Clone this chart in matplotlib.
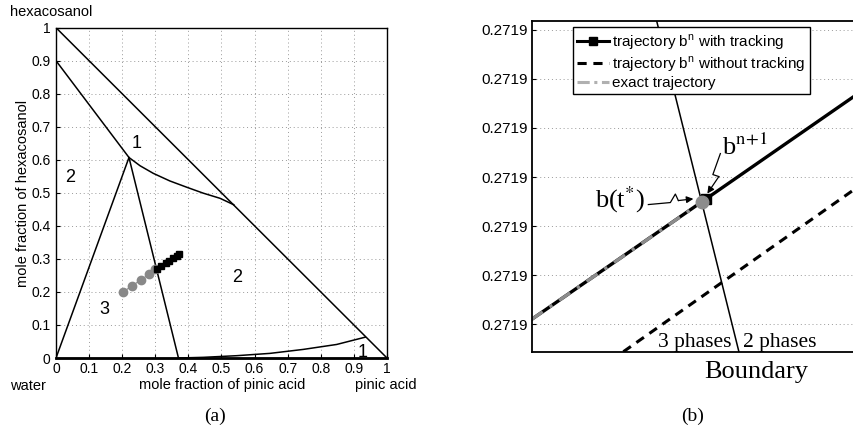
import matplotlib
matplotlib.use("Agg")
import matplotlib.pyplot as plt
import matplotlib.transforms as mtransforms
import numpy as np

plt.rcParams['font.family'] = ['Liberation Sans', 'DejaVu Sans']

W, H = 854, 432

# ---- panel (a): phase diagram, x = pinic acid, y = hexacosanol ----
hyp_x = [0.0, 1.0]
hyp_y = [1.0, 0.0]
upper_x = [0.0, 0.2205]
upper_y = [0.9, 0.607]
curve_x = [0.2205, 0.254, 0.294, 0.344, 0.395, 0.445, 0.4955, 0.537]
curve_y = [0.607, 0.582, 0.559, 0.536, 0.517, 0.499, 0.4835, 0.464]
tri_x = [0.0, 0.2205, 0.37]
tri_y = [0.0, 0.607, 0.0]
bottom_x = [0.37, 0.445, 0.546, 0.6465, 0.747, 0.848, 0.934]
bottom_y = [0.0, 0.002, 0.007, 0.014, 0.026, 0.041, 0.063]
edge_x = [0.0, 1.0]
edge_y = [0.0, 0.0]

exact_x = [0.2015, 0.2305, 0.256, 0.280, 0.299]
exact_y = [0.199, 0.219, 0.236, 0.253, 0.268]
track_x = [0.306, 0.318, 0.331, 0.342, 0.354, 0.365, 0.372]
track_y = [0.269, 0.278, 0.287, 0.294, 0.303, 0.310, 0.315]

region_labels = ["1", "2", "2", "3", "1"]
region_x = [0.244, 0.044, 0.546, 0.146, 0.926]
region_y = [0.648, 0.546, 0.244, 0.147, 0.016]

# ---- panel (b): zoom at the boundary ----
y0 = 0.271897
dy = 1e-6
yticks_b = [y0 + k * dy for k in range(7)]
ylim_b = (0.27189644, 0.27190318)

bnd_x = [0.383, 0.635]
bnd_y = [0.27190318, 0.27189644]
with_x = [0.0, 0.5334, 1.0]
with_y = [0.2718971, 0.27189955, 0.2719017]
without_x = [0.281, 1.0]
without_y = [0.27189644, 0.2718998]
exact_b_x = [0.0, 0.523]
exact_b_y = [0.2718971, 0.2718995]
bstar = (0.523, 0.2718995)
bnext = (0.5334, 0.27189955)


def px(x, y):
    return x / W, 1 - y / H


fig = plt.figure(figsize=(W / 100, H / 100), dpi=100)

# panel (a)
ax = fig.add_axes([56 / W, 1 - 358 / H, 331 / W, 330.3 / H])
kw = dict(color='black', lw=1.1)
ax.plot(hyp_x, hyp_y, **kw)
ax.plot(upper_x, upper_y, **kw)
ax.plot(curve_x, curve_y, **kw)
ax.plot(tri_x, tri_y, **kw)
ax.plot(bottom_x, bottom_y, **kw)
ax.plot(edge_x, edge_y, color='black', lw=2, clip_on=False, zorder=5)
ax.plot(exact_x, exact_y, color='#888888', lw=0.8, marker='o', ms=6,
        mfc='#888888', mec='#888888')
ax.plot(track_x, track_y, color='black', lw=1, marker='s', ms=5)
for t, x, y in zip(region_labels, region_x, region_y):
    ax.text(x, y, t, fontsize=13, ha='center', va='center')

ax.set_xlim(0, 1)
ax.set_ylim(0, 1)
ax.set_xticks(np.linspace(0, 1, 11))
ax.set_yticks(np.linspace(0, 1, 11))
ax.set_xticklabels(['0', '0.1', '0.2', '0.3', '0.4', '0.5', '0.6', '0.7', '0.8', '0.9', '1'])
ax.set_yticklabels(['0', '0.1', '0.2', '0.3', '0.4', '0.5', '0.6', '0.7', '0.8', '0.9', '1'])
ax.tick_params(direction='in', length=3, labelsize=10, pad=4)
ax.tick_params(axis='x', pad=3)
ax.grid(True, color='#999999', ls=(0, (1, 3)), lw=0.7)
for s in ax.spines.values():
    s.set_linewidth(1.0)

fig.text(*px(23, 193), 'mole fraction of hexacosanol', rotation=90,
         ha='center', va='center', fontsize=10.5)
fig.text(*px(222.5, 385.5), 'mole fraction of pinic acid', ha='center', va='center', fontsize=10.5)
fig.text(*px(10, 385.5), 'water', ha='left', va='center', fontsize=10.5)
fig.text(*px(355, 385.5), 'pinic acid', ha='left', va='center', fontsize=10.5)
fig.text(*px(10, 12.5), 'hexacosanol', ha='left', va='center', fontsize=10.5)
fig.text(*px(215, 416.5), '(a)', ha='center', va='center', fontsize=14,
         family='Liberation Serif')

# panel (b)
bx = fig.add_axes([531.7 / W, 1 - 351.7 / H, 326.3 / W, 330.7 / H])
bx.plot(bnd_x, bnd_y, color='black', lw=1.1)
l1, = bx.plot(with_x, with_y, color='black', lw=2.4)
l2, = bx.plot(without_x, without_y, color='black', lw=2.2, ls=(0, (3, 2.2)))
l3, = bx.plot(exact_b_x, exact_b_y, color='#8c8c8c', lw=2.4, ls=(0, (4, 2.5, 1, 2.5)))
bx.plot(*bnext, marker='s', ms=7, color='black', zorder=6)
bx.plot(*bstar, marker='o', ms=9, color='#8c8c8c', zorder=7)

bx.set_xlim(0, 1)
bx.set_ylim(*ylim_b)
bx.set_xticks([])
bx.set_yticks(yticks_b)
bx.set_yticklabels(['%.4f' % v for v in yticks_b])
bx.tick_params(direction='in', length=3, labelsize=11, pad=3)
bx.yaxis.grid(True, color='#999999', ls=(0, (1, 3)), lw=0.7)
for s in bx.spines.values():
    s.set_linewidth(1.3)

h1 = plt.Line2D([], [], color='black', lw=2.2, marker='s', ms=6)
h3 = plt.Line2D([], [], color='#b0b0b0', lw=2.2, ls=(0, (4, 1.5, 1, 1.5)))
leg = bx.legend([h1, l2, h3],
                [r'trajectory b$^{\mathregular{n}}$ with tracking',
                 r'trajectory b$^{\mathregular{n}}$ without tracking',
                 'exact trajectory'],
                loc='upper left', bbox_to_anchor=px(572.7, 27.3),
                bbox_transform=fig.transFigure, fontsize=11, frameon=True,
                fancybox=False, edgecolor='black', framealpha=1,
                handlelength=2.1, handletextpad=0.2, labelspacing=0.15,
                borderpad=0.3, borderaxespad=0)
leg.get_frame().set_linewidth(1.0)

serif = dict(family='Liberation Serif', math_fontfamily='stix')


def zigzag(pt, offs, tip):
    # offsets in pixels (right, up) relative to a data point
    tr = fig.dpi_scale_trans + mtransforms.ScaledTranslation(pt[0], pt[1], bx.transData)
    xs = [o[0] / 100 for o in offs]
    ys = [o[1] / 100 for o in offs]
    bx.plot(xs, ys, color='black', lw=0.9, transform=tr, clip_on=False)
    last = offs[-1]
    bx.annotate('', xy=(tip[0] / 100, tip[1] / 100), xycoords=tr,
                xytext=(last[0] / 100, last[1] / 100), textcoords=tr,
                arrowprops=dict(arrowstyle='-|>', color='black', lw=0.9,
                                shrinkA=0, shrinkB=0, mutation_scale=10))


zigzag(bstar, [(-54, -3), (-32, -1), (-27, 7.5), (-24, 1)], (-9, 2.7))
zigzag(bstar, [(18, 48), (10.5, 27), (16.5, 25)], (5, 8))

bx.annotate(r'b(t$^{*}$)', xy=bstar, xytext=(-107 * 0.72, -5.7 * 0.72),
            textcoords='offset points', ha='left', va='baseline', fontsize=19, **serif)
bx.annotate(r'b$^{\mathrm{n\!+\!1}}$', xy=bstar, xytext=(20 * 0.72, 47 * 0.72),
            textcoords='offset points', ha='left', va='baseline', fontsize=19, **serif)

fig.text(*px(731.7, 346.7), '3 phases', ha='right', va='baseline', fontsize=15.5,
         family='Liberation Serif')
fig.text(*px(742.7, 346.7), '2 phases', ha='left', va='baseline', fontsize=15.5,
         family='Liberation Serif')
fig.text(*px(756, 372), 'Boundary', ha='center', va='center', fontsize=19,
         family='Liberation Serif')
fig.text(*px(693, 416.5), '(b)', ha='center', va='center', fontsize=14,
         family='Liberation Serif')

fig.savefig('out.png', dpi=100)
